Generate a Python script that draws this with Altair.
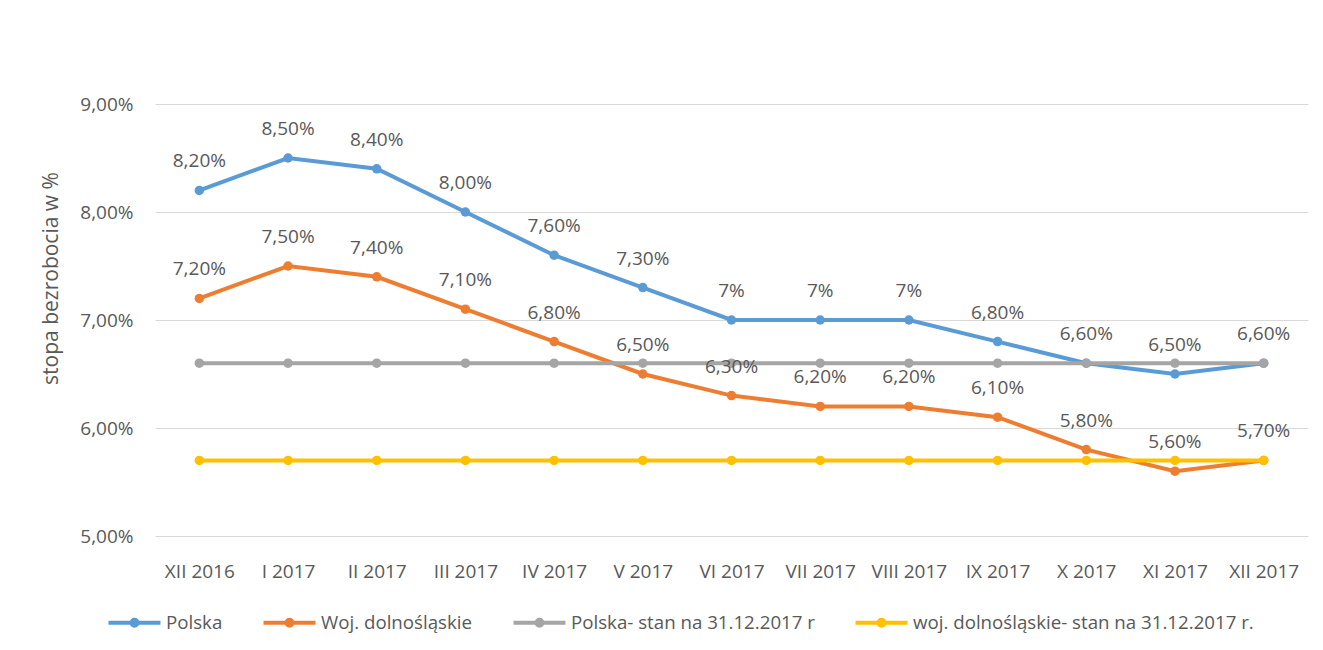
import altair as alt
import pandas as pd

months = ["XII 2016", "I 2017", "II 2017", "III 2017", "IV 2017", "V 2017", "VI 2017",
          "VII 2017", "VIII 2017", "IX 2017", "X 2017", "XI 2017", "XII 2017"]

series_names = ["Polska", "Woj. dolnośląskie",
                "Polska- stan na 31.12.2017 r", "woj. dolnośląskie- stan na 31.12.2017 r."]
series_colors = ["#5B9BD5", "#ED7D31", "#A5A5A5", "#FFC000"]

polska = [8.2, 8.5, 8.4, 8.0, 7.6, 7.3, 7.0, 7.0, 7.0, 6.8, 6.6, 6.5, 6.6]
dolno = [7.2, 7.5, 7.4, 7.1, 6.8, 6.5, 6.3, 6.2, 6.2, 6.1, 5.8, 5.6, 5.7]
polska_ref = [6.6] * 13
dolno_ref = [5.7] * 13

polska_labels = ["8,20%", "8,50%", "8,40%", "8,00%", "7,60%", "7,30%", "7%", "7%", "7%",
                 "6,80%", "6,60%", "6,50%", "6,60%"]
dolno_labels = ["7,20%", "7,50%", "7,40%", "7,10%", "6,80%", "6,50%", "6,30%", "6,20%", "6,20%",
                "6,10%", "5,80%", "5,60%", "5,70%"]

rows = []
for name, vals, labs in [
    (series_names[0], polska, polska_labels),
    (series_names[1], dolno, dolno_labels),
    (series_names[2], polska_ref, [""] * 13),
    (series_names[3], dolno_ref, [""] * 13),
]:
    for m, v, l in zip(months, vals, labs):
        rows.append({"month": m, "value": v, "series": name, "label": l})
df = pd.DataFrame(rows)

FONT = "Open Sans"
TXT = "#595959"

x_enc = alt.X("month:N", sort=months, title=None,
              scale=alt.Scale(type="point", padding=0.5),
              axis=alt.Axis(labelAngle=0, ticks=False, domain=False, grid=False,
                            labelFontSize=19, labelColor=TXT, labelFont=FONT,
                            labelPadding=26))
y_enc = alt.Y("value:Q", title="stopa bezrobocia w %",
              scale=alt.Scale(domain=[5, 9], nice=False, zero=False),
              axis=alt.Axis(values=[5, 6, 7, 8, 9], ticks=False, domain=False,
                            gridColor="#D9D9D9", gridWidth=1,
                            labelExpr="replace(format(datum.value, '.2f'), '.', ',') + '%'",
                            labelFontSize=19, labelColor=TXT, labelFont=FONT, labelPadding=22,
                            titleFontSize=21, titleColor=TXT, titleFont=FONT,
                            titleFontWeight="normal", titleX=-104, titleY=174,
                            titleBaseline="middle", titleAngle=270))
color_enc = alt.Color("series:N", title=None,
                      scale=alt.Scale(domain=series_names, range=series_colors),
                      legend=alt.Legend(orient="none", legendX=-40, legendY=499,
                                        direction="horizontal",
                                        symbolType="M-1.5,0L1.5,0M-0.17,0A0.17,0.17 0 1,0 0.17,0A0.17,0.17 0 1,0 -0.17,0",
                                        symbolSize=1200, symbolStrokeWidth=4,
                                        labelFontSize=18.7, labelColor=TXT, labelFont=FONT,
                                        labelOffset=12, labelLimit=0, columnPadding=32))

base = alt.Chart(df)
layers = []
for name in series_names:
    sub = base.transform_filter(alt.datum.series == name)
    layers.append(sub.mark_line(strokeWidth=4).encode(x=x_enc, y=y_enc, color=color_enc))
    layers.append(sub.mark_point(filled=True, size=90, opacity=1).encode(x=x_enc, y=y_enc, color=color_enc))
for name in series_names[:2]:
    sub = base.transform_filter(alt.datum.series == name)
    layers.append(sub.mark_text(dy=-29, fontSize=19, font=FONT, color=TXT, baseline="middle")
                  .encode(x=x_enc, y=y_enc, text="label:N"))

chart = alt.layer(*layers).properties(
    width=1153, height=432,
    background="white",
    autosize=alt.AutoSizeParams(type="none"),
    padding={"left": 147, "top": 96, "right": 7, "bottom": 106},
).configure_view(strokeWidth=0, stroke="transparent")

chart.save("out.html", embed_options={"renderer": "svg", "actions": False})
